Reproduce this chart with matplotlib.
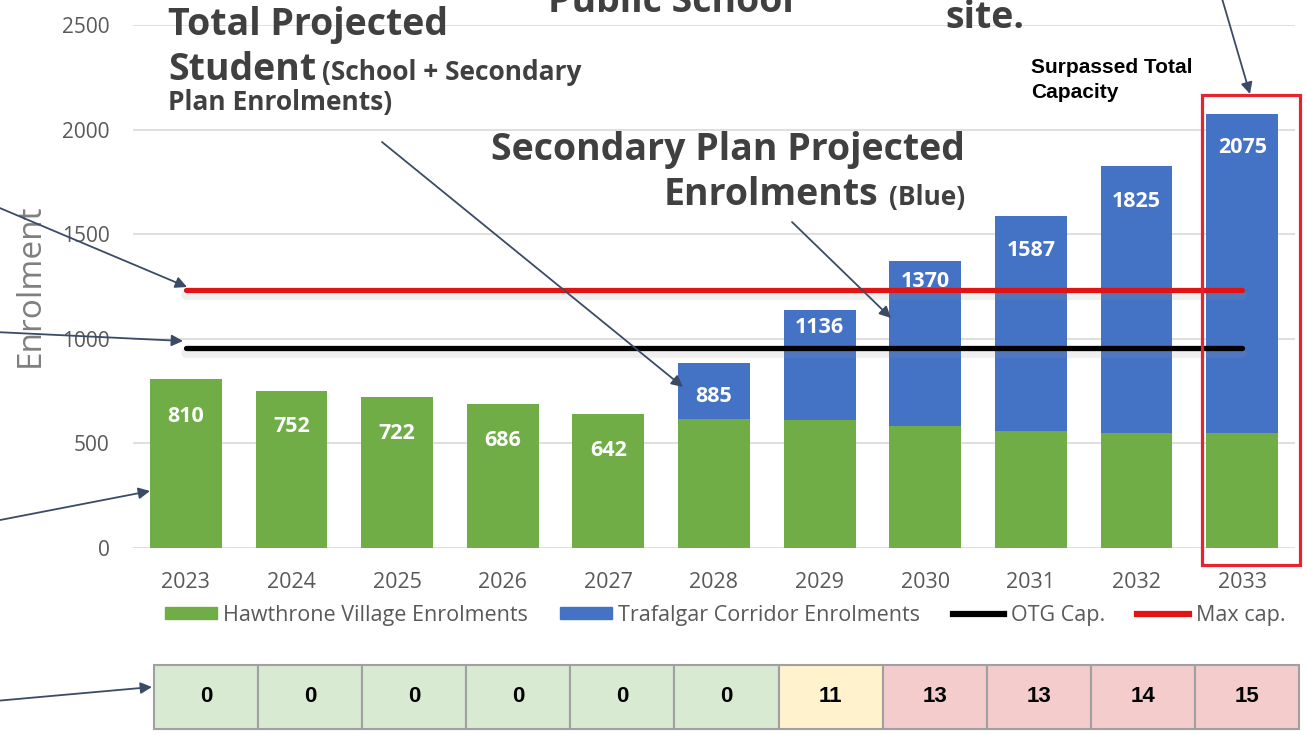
import matplotlib
matplotlib.use("Agg")
import matplotlib.pyplot as plt
import numpy as np
from matplotlib import patheffects as pe
from matplotlib.patches import Rectangle, Patch
from matplotlib.lines import Line2D

# ---------------- data ----------------
years = ["2023", "2024", "2025", "2026", "2027", "2028", "2029", "2030", "2031", "2032", "2033"]
hawthrone = [810, 752, 722, 686, 642, 618, 612, 583, 558, 548, 548]
trafalgar = [0, 0, 0, 0, 0, 267, 524, 787, 1029, 1277, 1527]
otg_cap = 955
max_cap = 1233
portables = [0, 0, 0, 0, 0, 0, 11, 13, 13, 14, 15]
y_ticks = [0, 500, 1000, 1500, 2000, 2500]
legend_labels = ["Hawthrone Village Enrolments", "Trafalgar Corridor Enrolments", "OTG Cap.", "Max cap."]

# ---------------- style ----------------
GREEN = "#70ad47"
BLUE = "#4472c4"
GRID = "#d9d9d9"
TICK = "#595959"
ANNOT = "#404040"
ARROW = "#3b4b66"
CHART_FONT = ["Open Sans", "DejaVu Sans"]
NOTE_FONT = ["Open Sans", "DejaVu Sans"]
ARIAL = ["Liberation Sans", "DejaVu Sans"]

W, H = 1307, 735
fig = plt.figure(figsize=(W / 100, H / 100), dpi=100)
fig.patch.set_facecolor("white")


def box(l, t, r, b):
    return [l / W, 1 - b / H, (r - l) / W, (b - t) / H]


ax = fig.add_axes(box(133, 25, 1295, 548))
x = np.arange(len(years))
tot = np.array(hawthrone) + np.array(trafalgar)

ax.bar(x, hawthrone, width=0.68, color=GREEN, zorder=2)
ax.bar(x, trafalgar, bottom=hawthrone, width=0.68, color=BLUE, zorder=2)

shadow = [pe.SimpleLineShadow(offset=(0, -3.5), shadow_color="#9a9a9a", alpha=0.15, linewidth=7), pe.Normal()]
ax.plot(x, [otg_cap] * len(x), color="black", lw=3.8, solid_capstyle="round", zorder=3, path_effects=shadow)
ax.plot(x, [max_cap] * len(x), color="#e01414", lw=3.8, solid_capstyle="round", zorder=3, path_effects=shadow)

label_drop = [38, 36, 37, 36, 37, 34, 17, 20, 35, 35, 34]
for xi, t, d in zip(x, tot, label_drop):
    ax.annotate(str(t), (xi, t), xytext=(0, -d * 0.72), textcoords="offset points",
                ha="center", va="center", color="white", fontweight="bold",
                fontsize=15.5, family=CHART_FONT, zorder=4)

ax.set_xlim(-0.5, 10.5)
ax.set_ylim(0, 2500)
ax.set_xticks(x, years)
ax.set_yticks(y_ticks)
ax.tick_params(axis="x", length=0, pad=17, labelsize=15.5, labelcolor=TICK)
ax.tick_params(axis="y", length=0, pad=17, labelsize=15, labelcolor=TICK)
for lab in ax.get_xticklabels() + ax.get_yticklabels():
    lab.set_family(CHART_FONT)
ax.yaxis.grid(True, color=GRID, lw=1.2)
ax.set_axisbelow(True)
for s in ax.spines.values():
    s.set_visible(False)

fig.text(30 / W, 1 - 285 / H, "Enrolment", rotation=90, ha="center", va="center",
         fontsize=24, color="#7f7f7f", family=CHART_FONT)

handles = [Patch(color=GREEN), Patch(color=BLUE),
           Line2D([], [], color="black", lw=4.5), Line2D([], [], color="#e01414", lw=4.5)]
leg = ax.legend(handles, legend_labels, loc="center left", bbox_to_anchor=(165 / W, 1 - 615 / H),
                bbox_transform=fig.transFigure, ncol=4, frameon=False,
                handlelength=2.4, handleheight=0.5, handletextpad=0.3, columnspacing=1.5,
                borderpad=0, borderaxespad=0, prop={"family": CHART_FONT, "size": 15.5})
for t in leg.get_texts():
    t.set_color(TICK)

# red highlight box round the last bar
ax.add_patch(Rectangle((x[-1] - 0.377, -81), 0.928, 2246, fill=False, ec="#e8232f", lw=2.3,
                       clip_on=False, zorder=5))

# ---------------- table ----------------
tax = fig.add_axes(box(154, 665, 1299, 729))
tax.set_xlim(0, len(portables))
tax.set_ylim(0, 1)
tax.axis("off")
for i, v in enumerate(portables):
    fc = "#d9ead3" if v == 0 else ("#fff2cc" if v <= 12 else "#f4cccc")
    tax.add_patch(Rectangle((i, 0), 1, 1, fc=fc, ec="#a0a0a0", lw=1.5, clip_on=False))
    tax.text(i + 0.5, 0.5, str(v), ha="center", va="center", fontsize=16,
             fontweight="bold", family=ARIAL, color="black")

# ---------------- overlay notes ----------------
ov = fig.add_axes([0, 0, 1, 1], zorder=10)
ov.set_xlim(0, W)
ov.set_ylim(H, 0)
ov.axis("off")
ov.patch.set_alpha(0)

big = dict(fontsize=27, fontweight="bold", family=NOTE_FONT, color=ANNOT, va="baseline")
small = dict(fontsize=19, fontweight="bold", family=NOTE_FONT, color=ANNOT, va="baseline")

ov.text(548, 12, "Public School", ha="left", **big)
ov.text(945, 28, "site.", ha="left", **big)
ov.text(168, 35, "Total Projected", ha="left", **big)
ov.text(168, 80, "Student", ha="left", **big)
ov.text(322, 80, "(School + Secondary", ha="left", **small)
ov.text(168, 110, "Plan Enrolments)", ha="left", **small)
ov.text(965, 160, "Secondary Plan Projected", ha="right", **big)
ov.text(878, 205, "Enrolments", ha="right", **big)
ov.text(965, 205, "(Blue)", ha="right", **small)
ov.text(1031, 73, "Surpassed Total", ha="left", va="baseline", fontsize=15,
        fontweight="bold", family=ARIAL, color="black")
ov.text(1031, 98, "Capacity", ha="left", va="baseline", fontsize=15,
        fontweight="bold", family=ARIAL, color="black")

arrows = [((-5, 206), (187, 287)),
          ((-5, 332), (183, 341)),
          ((-5, 521), (150, 491)),
          ((-5, 701), (152, 687)),
          ((382, 142), (683, 387)),
          ((792, 222), (891, 318)),
          ((1221, -5), (1250, 94))]
for start, end in arrows:
    ov.annotate("", xy=end, xytext=start, annotation_clip=False,
                arrowprops=dict(arrowstyle="-|>", color=ARROW, lw=1.3, mutation_scale=17,
                                shrinkA=0, shrinkB=0))

fig.savefig("out.png", dpi=100)
